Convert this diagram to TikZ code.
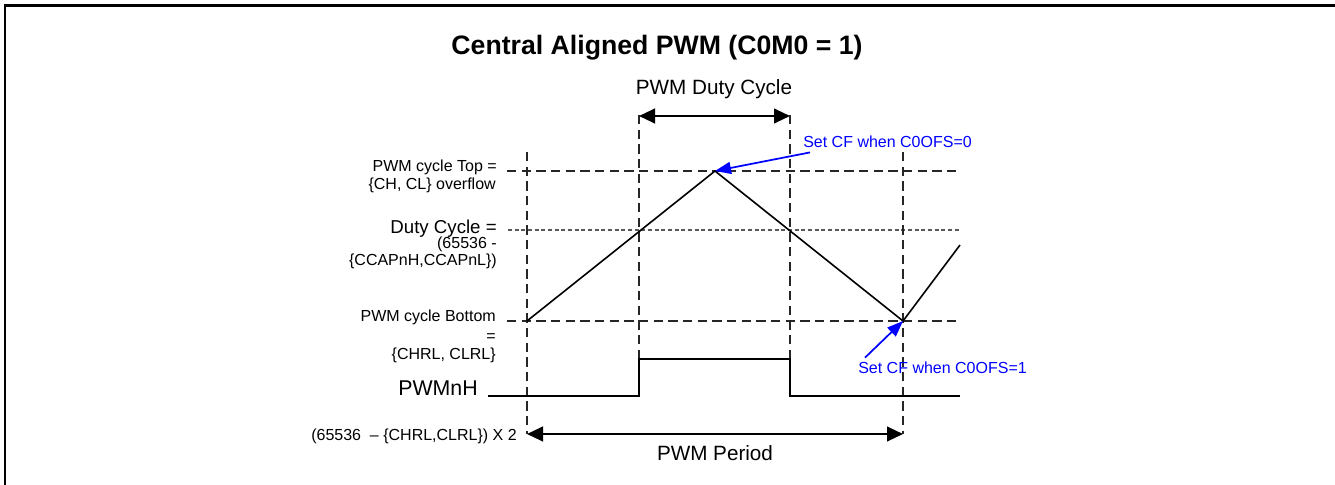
\documentclass[tikz,border=0pt]{standalone}
\usepackage{fontspec}
\setmainfont{Liberation Sans}
\usetikzlibrary{arrows.meta}

\tikzset{
    dashline/.style={black!85, line width=0.8pt, dash pattern=on 7pt off 4pt},
    dashfine/.style={black!65, line width=0.8pt, dash pattern=on 3pt off 2pt},
    wave/.style={black, line width=1.2pt},
    spanarrow/.style={black, line width=1.6pt, {Triangle[length=12pt,width=11pt]}-{Triangle[length=12pt,width=11pt]}},
    cfarrow/.style={blue, line width=1.3pt, -{Triangle[length=12pt,width=9pt]}},
    lbl/.style={anchor=base east, inner sep=0pt, font=\fontsize{12}{14}\selectfont},
    cftext/.style={blue, anchor=base west, inner sep=0pt, font=\fontsize{12}{14}\selectfont},
}

\begin{document}
\begin{tikzpicture}[x=0.75pt, y=-0.75pt]
    \def\xa{527}
    \def\xb{639}
    \def\xc{790}
    \def\xd{903}
    \def\ytop{171}
    \def\yduty{230}
    \def\ybot{321}
    \def\yhi{359}
    \def\ylo{396}

    % canvas and frame
    \useasboundingbox (0,0) rectangle (1335,485);
    \draw[line width=2pt] (5,485) -- (5,5.5) -- (1335,5.5);

    % title
    \node[font=\fontsize{20}{22}\selectfont\bfseries, anchor=base] (title) at (657,55) {Central Aligned PWM (C0M0 = 1)};

    % points of the counter wave
    \coordinate (start) at (\xa,\ybot);
    \coordinate (peak) at (715,\ytop);
    \coordinate (valley) at (\xd,\ybot);
    \coordinate (rise) at (960,245);

    % level lines
    \draw[dashline] (507,\ytop) -- (960,\ytop);
    \draw[dashfine] (508,\yduty) -- (960,\yduty);
    \draw[dashline] (507,\ybot) -- (960,\ybot);

    % vertical markers
    \foreach \x/\ya/\yb in {\xa/152/434, \xb/115/\yhi, \xc/115/\yhi, \xd/152/434} {
        \draw[dashline] (\x,\ya) -- (\x,\yb);
    }

    % counter
    \draw[wave] (start) -- (peak) -- (valley) -- (rise);

    % PWMnH output
    \draw[wave, line width=1.5pt] (488,\ylo) -- (\xb,\ylo) -- (\xb,\yhi) -- (\xc,\yhi) -- (\xc,\ylo) -- (960,\ylo);

    % duty cycle
    \coordinate (dutyL) at (\xb,116);
    \coordinate (dutyR) at (\xc,116);
    \draw[spanarrow] (dutyL) -- (dutyR);
    \node[font=\fontsize{15.5}{18}\selectfont, anchor=base] (dutytxt) at (714,94) {PWM Duty Cycle};

    % period
    \coordinate (perL) at (\xa,434);
    \coordinate (perR) at (\xd,434);
    \draw[spanarrow] (perL) -- (perR);
    \node[font=\fontsize{15.5}{18}\selectfont, anchor=base] (pertxt) at (715,460) {PWM Period};

    % left labels
    \node[lbl] (topA) at (497,171) {PWM cycle Top =};
    \node[lbl] (topB) at (496,189) {\{CH, CL\} overflow};
    \node[lbl, font=\fontsize{14}{16}\selectfont] (dutyA) at (497,233) {Duty Cycle =};
    \node[lbl] (dutyB) at (497,248) {(65536 -};
    \node[lbl] (dutyC) at (497,265) {\{CCAPnH,CCAPnL\})};
    \node[lbl] (botA) at (496,321) {PWM cycle Bottom};
    \node[lbl] (botB) at (496,341) {=};
    \node[lbl] (botC) at (496,359) {\{CHRL, CLRL\}};
    \node[lbl, font=\fontsize{16}{18}\selectfont] (pwmh) at (478,395) {PWMnH};
    \node[lbl] (perlbl) at (517,440) {(65536~ – \{CHRL,CLRL\}) X 2};

    % compare flag notes
    \node[cftext] (cf0) at (803,147) {Set CF when C0OFS=0};
    \node[cftext] (cf1) at (858,373) {Set CF when C0OFS=1};
    \draw[cfarrow] ([shift={(7,5)}]cf0.south west) -- (peak);
    \draw[cfarrow] ([shift={(7,-3.5)}]cf1.north west) -- (valley);

\end{tikzpicture}
\end{document}
